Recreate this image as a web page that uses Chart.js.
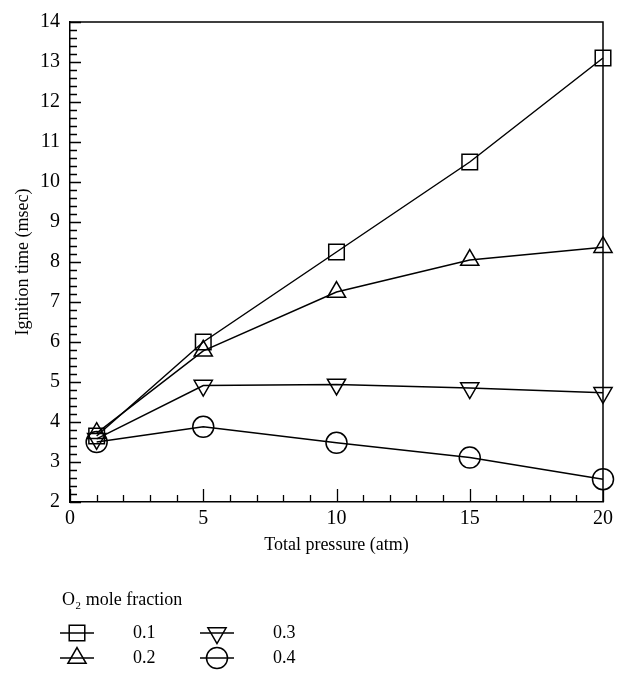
<!DOCTYPE html>
<html>
<head>
<meta charset="utf-8">
<script src="https://cdn.jsdelivr.net/npm/chart.js@4/dist/chart.umd.min.js"></script>
<style>
  body { margin: 0; background: #fff; }
  canvas { display: block; }
</style>
</head>
<body>
<canvas id="ignitionChart" width="623" height="673"></canvas>
<script>
// data
const pressure = [1, 5, 10, 15, 20];
const fractions = ['0.1', '0.2', '0.3', '0.4'];
const time01 = [3.65, 6.0, 8.25, 10.5, 13.1];
const time02 = [3.72, 5.78, 7.25, 8.05, 8.37];
const time03 = [3.58, 4.91, 4.94, 4.85, 4.73];
const time04 = [3.5, 3.88, 3.48, 3.11, 2.57];
const xTicks = [0, 5, 10, 15, 20];
const yTicks = [2, 3, 4, 5, 6, 7, 8, 9, 10, 11, 12, 13, 14];

const series = [time01, time02, time03, time04];
const styles = [
  { pointStyle: 'rect', rotation: 0, radius: 11 },
  { pointStyle: 'triangle', rotation: 0, radius: 10.5 },
  { pointStyle: 'triangle', rotation: 180, radius: 10.5 },
  { pointStyle: 'circle', rotation: 0, radius: 10.5 }
];

const FONT = "'Liberation Serif', 'Times New Roman', serif";
Chart.defaults.font.family = FONT;
Chart.defaults.color = '#000';

// inward ticks, top/right frame, custom legend
const framePlugin = {
  id: 'frame',
  afterDraw(chart) {
    const ctx = chart.ctx;
    const a = chart.chartArea;
    const xs = chart.scales.x, ys = chart.scales.y;
    ctx.save();
    ctx.strokeStyle = '#000';
    ctx.lineWidth = 1.5;
    ctx.beginPath();
    ctx.moveTo(a.left, a.top);
    ctx.lineTo(a.right, a.top);
    ctx.lineTo(a.right, a.bottom);
    ctx.stroke();

    ctx.lineWidth = 1.3;
    ctx.beginPath();
    for (let i = 0; i <= (ys.max - ys.min) * 5; i++) {
      const v = ys.min + i / 5;
      const y = Math.round(ys.getPixelForValue(v)) + 0.5;
      const len = i % 5 === 0 ? 11 : 7;
      ctx.moveTo(a.left, y);
      ctx.lineTo(a.left + len, y);
    }
    for (let v = xs.min; v <= xs.max; v++) {
      const x = Math.round(xs.getPixelForValue(v)) + 0.5;
      const len = v % 5 === 0 ? 13 : 7;
      ctx.moveTo(x, a.bottom);
      ctx.lineTo(x, a.bottom - len);
    }
    ctx.stroke();

    // legend
    ctx.fillStyle = '#000';
    ctx.font = '18px ' + FONT;
    ctx.textBaseline = 'middle';
    ctx.textAlign = 'left';
    ctx.fillText('O\u2082 mole fraction', 62, 600);
    chart.data.datasets.forEach((ds, i) => {
      const col = Math.floor(i / 2), row = i % 2;
      const cx = 77 + col * 140;
      const cy = 633 + row * 25;
      ctx.lineWidth = 1.5;
      ctx.beginPath();
      ctx.moveTo(cx - 17, cy);
      ctx.lineTo(cx + 17, cy);
      ctx.stroke();
      ctx.fillStyle = 'rgba(0,0,0,0)';
      Chart.helpers.drawPoint(ctx, {
        pointStyle: ds.pointStyle,
        rotation: ds.pointRotation,
        radius: ds.pointRadius,
        borderWidth: 1.5
      }, cx, cy);
      ctx.fillStyle = '#000';
      ctx.fillText(ds.label, cx + 56, cy);
    });
    ctx.restore();
  }
};

const ctx = document.getElementById('ignitionChart').getContext('2d');
const myChart = new Chart(ctx, {
  type: 'line',
  data: {
    datasets: series.map((vals, i) => ({
      label: fractions[i],
      data: pressure.map((p, j) => ({ x: p, y: vals[j] })),
      borderColor: '#000',
      borderWidth: 1.5,
      pointStyle: styles[i].pointStyle,
      pointRotation: styles[i].rotation,
      pointRadius: styles[i].radius,
      pointBorderWidth: 1.5,
      pointBorderColor: '#000',
      pointBackgroundColor: 'rgba(0,0,0,0)',
      tension: 0,
      fill: false,
      clip: false
    }))
  },
  options: {
    responsive: false,
    animation: false,
    layout: { padding: { left: 0, top: 16, right: 20, bottom: 111 } },
    plugins: { legend: { display: false }, tooltip: { enabled: false } },
    scales: {
      x: {
        type: 'linear',
        min: 0,
        max: 20,
        afterFit(scale) { scale.height = 60; },
        afterBuildTicks(scale) { scale.ticks = xTicks.map(v => ({ value: v })); },
        grid: { display: false, drawTicks: false },
        border: { display: true, color: '#000', width: 1.5 },
        ticks: { padding: 5, font: { size: 20 }, color: '#000' },
        title: {
          display: true,
          text: 'Total pressure (atm)',
          font: { size: 18 },
          color: '#000',
          padding: { top: 0, bottom: 6 }
        }
      },
      y: {
        min: 2,
        max: 14,
        afterFit(scale) { scale.width = 70; },
        afterBuildTicks(scale) { scale.ticks = yTicks.map(v => ({ value: v })); },
        grid: { display: false, drawTicks: false },
        border: { display: true, color: '#000', width: 1.5 },
        ticks: { padding: 10, font: { size: 20 }, color: '#000' },
        title: {
          display: true,
          text: 'Ignition time (msec)',
          font: { size: 18 },
          color: '#000',
          padding: { top: 12, bottom: 0 }
        }
      }
    }
  },
  plugins: [framePlugin]
});
</script>
</body>
</html>
